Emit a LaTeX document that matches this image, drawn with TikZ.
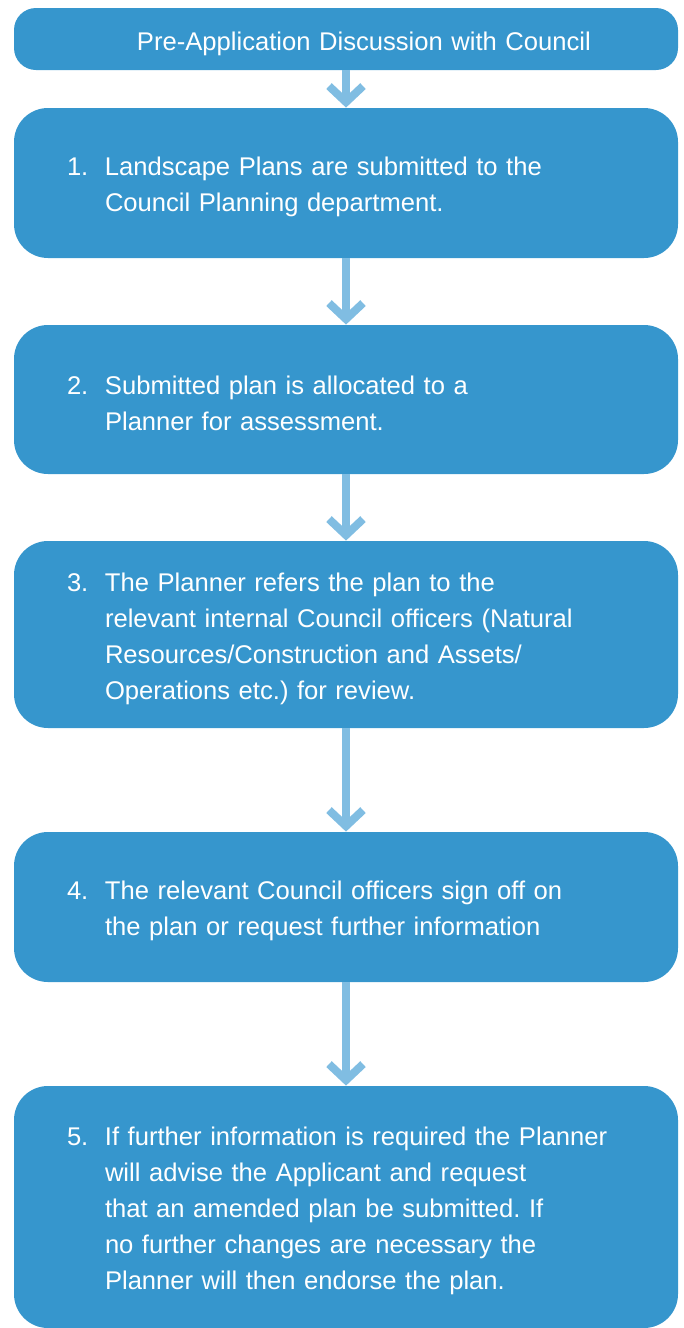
\documentclass[tikz,border=0pt]{standalone}
\usepackage{fontspec}
\setmainfont{Liberation Sans}
\usetikzlibrary{arrows.meta}
\definecolor{boxblue}{HTML}{3696CD}
\definecolor{arrowblue}{HTML}{80BDE2}
\frenchspacing
\newcommand{\stepline}[2]{\hspace*{26.5pt}\makebox[19pt][l]{\rule{0pt}{13.5pt}#1}\parbox[t]{280pt}{#2}}
\begin{document}
\begin{tikzpicture}[x=0.5pt,y=-0.5pt,
    stepbox/.style={fill=boxblue,text=white,rounded corners=17pt,minimum width=332pt,
        inner sep=0pt,text width=332pt,align=left,font=\fontsize{12.8}{18}\selectfont},
    flow/.style={arrowblue,line width=4pt,-{Straight Barb[length=8pt,width=17pt]}}]
    \useasboundingbox (0,0) rectangle (684,1328);%page size in px
    \node[stepbox,rounded corners=11pt,minimum height=31pt] (pre) at (346,39)
        {\hspace*{61.5pt}\rule{0pt}{14.5pt}Pre-Application Discussion with Council};
    \node[stepbox,minimum height=75pt] (s1) at (346,183)
        {\stepline{1.}{Landscape Plans are submitted to the\\Council Planning department.}};
    \node[stepbox,minimum height=74.5pt] (s2) at (346,399.5)
        {\stepline{2.}{Submitted plan is allocated to a\\Planner for assessment.}};
    \node[stepbox,minimum height=93.5pt] (s3) at (346,634.5)
        {\stepline{3.}{The Planner refers the plan to the\\relevant internal Council officers (Natural\\Resources/Construction and Assets/\\Operations etc.) for review.}};
    \node[stepbox,minimum height=75pt] (s4) at (346,907)
        {\stepline{4.}{The relevant Council officers sign off on\\the plan or request further information}};
    \node[stepbox,minimum height=121pt] (s5) at (346,1207)
        {\stepline{5.}{If further information is required the Planner\\will advise the Applicant and request\\that an amended plan be submitted. If\\no further changes are necessary the\\Planner will then endorse the plan.}};
    \draw[flow] (pre.south) -- (s1.north);
    \draw[flow] (s1.south) -- (s2.north);
    \draw[flow] (s2.south) -- (s3.north);
    \draw[flow] (s3.south) -- (s4.north);
    \draw[flow] (s4.south) -- (s5.north);
\end{tikzpicture}
\end{document}
